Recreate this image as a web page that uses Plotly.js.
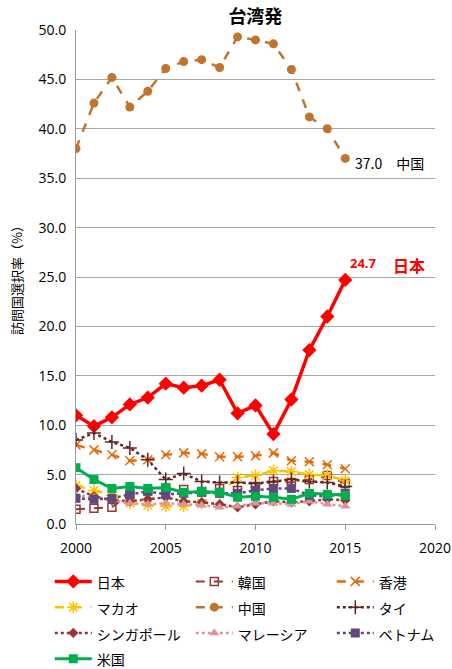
<!DOCTYPE html>
<html><head><meta charset="utf-8">
<script src="https://cdn.plot.ly/plotly-3.0.1.min.js"></script>
<style>body{margin:0;background:#fff}#c{width:452px;height:669px}</style>
</head><body><div id="c"></div>
<script>
const years = [2000,2001,2002,2003,2004,2005,2006,2007,2008,2009,2010,2011,2012,2013,2014,2015];
const japan     = [11.0,9.9,10.8,12.1,12.8,14.2,13.8,14.0,14.6,11.2,12.0,9.1,12.6,17.6,21.0,24.7];
const korea     = [1.5,1.6,1.7,3.0,3.4,3.6,3.5,3.3,3.6,3.4,3.8,4.3,4.2,4.5,4.9,4.1];
const hongkong  = [8.0,7.5,7.0,6.4,6.5,7.0,7.2,7.1,6.8,6.8,6.9,7.2,6.4,6.3,6.0,5.6];
const macau     = [3.9,3.4,2.9,2.1,1.9,1.8,1.8,2.1,3.1,4.7,4.9,5.4,5.3,5.0,4.9,4.4];
const china     = [38.0,42.6,45.2,42.2,43.8,46.1,46.8,47.0,46.2,49.3,49.0,48.6,46.0,41.2,40.0,37.0];
const thai      = [8.5,9.2,8.3,7.7,6.5,4.5,5.1,4.3,4.2,4.2,4.1,4.3,4.5,4.3,4.2,3.8];
const singapore = [3.6,2.8,2.4,2.3,2.5,2.7,2.3,2.2,2.0,1.7,2.0,2.3,2.2,2.3,2.5,2.4];
const malaysia  = [2.9,2.7,2.4,2.1,2.0,2.1,2.0,1.9,1.7,1.8,2.1,2.1,2.0,2.3,2.0,1.8];
const vietnam   = [2.6,2.5,2.6,3.0,3.3,3.0,3.1,3.2,3.1,3.1,3.4,3.6,3.6,2.9,2.8,3.1];
const usa       = [5.7,4.5,3.6,3.8,3.6,3.7,3.2,3.3,3.2,2.7,2.8,2.7,2.5,3.1,3.0,2.9];
const names = ['日本','韓国','香港','マカオ','中国','タイ','シンガポール','マレーシア','ベトナム','米国'];
const yTicks = [0,5,10,15,20,25,30,35,40,45,50];

const series = [japan,korea,hongkong,macau,china,thai,singapore,malaysia,vietnam,usa];
const styles = [
  {color:'#FF0000', dash:'solid', width:3.5, symbol:'diamond', size:11},
  {color:'#953735', dash:'dash', width:2, symbol:'square-open', size:8},
  {color:'#E46C0A', dash:'dash', width:2.5, symbol:'x-thin-open', size:9},
  {color:'#FFC000', dash:'dash', width:2.5, symbol:'asterisk-open', size:10},
  {color:'#C0742E', dash:'dash', width:2.5, symbol:'circle', size:9},
  {color:'#632523', dash:'dot', width:2.5, symbol:'cross-thin-open', size:10},
  {color:'#953735', dash:'dot', width:2.5, symbol:'diamond', size:8},
  {color:'#D99694', dash:'dot', width:2.5, symbol:'triangle-up', size:9},
  {color:'#604A7B', dash:'dot', width:2.5, symbol:'square', size:9},
  {color:'#00B050', dash:'solid', width:3, symbol:'square', size:9}
];
const traces = series.map((s,i)=>({
  x: years, y: s, name: '<span style="font-size:14px">'+names[i]+'</span>', type:'scatter', mode:'lines+markers',
  line:{color:styles[i].color, dash:styles[i].dash, width:styles[i].width},
  marker:{symbol:styles[i].symbol, size:styles[i].size, color:styles[i].color,
          line:{color:styles[i].color, width: styles[i].symbol.indexOf('open')>=0 ? 1.5 : 0}}
}));

const jp = '"Noto Sans CJK JP", "Noto Sans", sans-serif';
const layout = {
  width:452, height:669,
  margin:{l:76, r:17, t:30, b:145, autoexpand:false},
  paper_bgcolor:'#fff', plot_bgcolor:'#fff',
  font:{family:jp, size:13, color:'#000'},
  title:{text:'<b>台湾発</b>', x:0.565, xanchor:'center', y:0.975, yanchor:'middle', font:{size:18, family:jp}},
  xaxis:{range:[2000,2020], tickvals:[2000,2005,2010,2015,2020], ticks:'outside', ticklen:5, tickcolor:'#999',
         showgrid:false, showline:true, linecolor:'#999', linewidth:1, zeroline:false, ticklabelstandoff:6,
         tickfont:{size:14, family:'"Open Sans", sans-serif'}},
  yaxis:{range:[0,50], tickvals:yTicks, tickformat:'.1f', showgrid:true, gridcolor:'#a6a6a6', gridwidth:1,
         showline:true, linecolor:'#999', zeroline:false, ticks:'', ticklen:0, ticklabelstandoff:6,
         tickfont:{size:14, family:'"Open Sans", sans-serif'},
         title:{text:'訪問国選択率（%）', font:{size:13, family:jp}, standoff:12}},
  showlegend:true,
  legend:{orientation:'h', x:-0.073, xanchor:'left', y:-0.08, yanchor:'top',
          entrywidth:89, entrywidthmode:'pixels', itemwidth:37, tracegroupgap:0,
          font:{size:17.5, family:jp}},
  annotations:[
    {x:2015, y:china[15], xref:'x', yref:'y', text:china[15].toFixed(1)+'　中国', showarrow:false,
     xanchor:'left', yanchor:'top', xshift:8, yshift:7, font:{size:14, family:jp, color:'#000'}},
    {x:2015, y:japan[15], xref:'x', yref:'y', text:'<b>'+japan[15].toFixed(1)+'</b>', showarrow:false,
     xanchor:'left', yanchor:'bottom', xshift:3, yshift:6, font:{size:13, family:'"Open Sans", sans-serif', color:'#FF0000'}},
    {x:2015, y:japan[15], xref:'x', yref:'y', text:'<b>日本</b>', showarrow:false,
     xanchor:'left', yanchor:'bottom', xshift:46, yshift:1, font:{size:16, family:jp, color:'#FF0000'}}
  ]
};
Plotly.newPlot('c', traces, layout, {displayModeBar:false, staticPlot:true});
</script></body></html>
